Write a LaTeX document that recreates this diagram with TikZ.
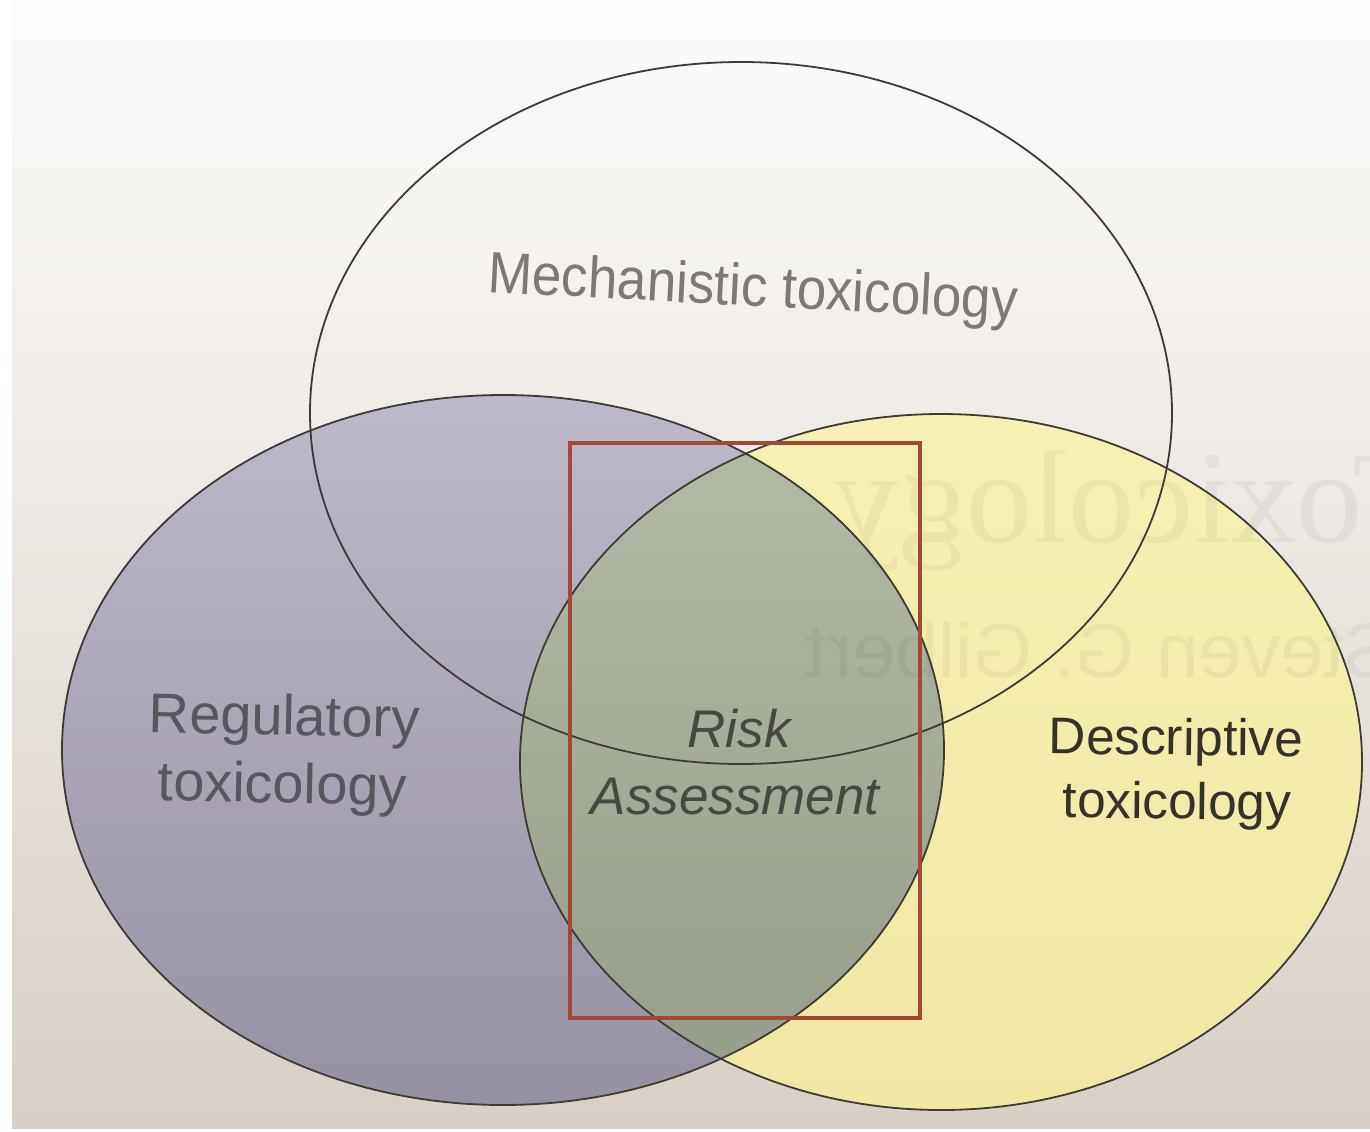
\documentclass[tikz,border=0pt]{standalone}
\usepackage{fontspec}
\setmainfont{Liberation Sans}
\newfontfamily\bgserif{Liberation Serif}
\usepackage{graphicx}
\definecolor{pagetop}{RGB}{253,252,251}
\definecolor{pagemid}{RGB}{246,242,238}
\definecolor{pagebot}{RGB}{216,208,198}
\definecolor{purpletop}{RGB}{190,185,202}
\definecolor{purplebot}{RGB}{150,144,163}
\definecolor{yellowtop}{RGB}{246,241,178}
\definecolor{yellowbot}{RGB}{240,231,163}
\definecolor{lenstop}{RGB}{180,188,166}
\definecolor{lensbot}{RGB}{148,156,138}
\definecolor{outline}{RGB}{62,58,54}
\definecolor{redbox}{RGB}{164,72,54}
\definecolor{mechtext}{RGB}{126,120,118}
\definecolor{regtext}{RGB}{90,86,94}
\definecolor{risktext}{RGB}{70,72,68}
\definecolor{desctext}{RGB}{52,50,42}
\begin{document}
\begin{tikzpicture}[x=0.5pt,y=-0.5pt,
  setline/.style={draw=outline,line width=0.9pt},
  label/.style={inner sep=0pt,anchor=base},
  ghost/.style={inner sep=0pt,anchor=base west,text=black,text opacity=0.045}]
\useasboundingbox (0,0) rectangle (1370,1131);
% photo background
\fill[white] (0,0) rectangle (1370,1131);
\shade[top color=pagetop,middle color=pagemid,bottom color=pagebot] (12,0) rectangle (1370,1128);
% fills
\shade[top color=purpletop,bottom color=purplebot] (503,750) ellipse [x radius=220.5pt,y radius=177.5pt];
\shade[top color=yellowtop,bottom color=yellowbot] (941,762) ellipse [x radius=210.5pt,y radius=174pt];
\begin{scope}
  \clip (503,750) ellipse [x radius=220.5pt,y radius=177.5pt];
  \shade[top color=lenstop,bottom color=lensbot] (941,762) ellipse [x radius=210.5pt,y radius=174pt];
\end{scope}
% faint show-through from the reverse page
\begin{scope}
  \clip (12,0) rectangle (1370,1128);
  \node[ghost,font=\bgserif\fontsize{66}{66}\selectfont] (ghosttitle) at (834,542) {\scalebox{-1}[1]{Toxicology}};
  \node[ghost,font=\fontsize{38.5}{38.5}\selectfont] (ghostauthor) at (805,677) {\scalebox{-1}[1]{Steven G. Gilbert}};
\end{scope}
% outlines
\draw[setline] (503,750) ellipse [x radius=220.5pt,y radius=177.5pt];
\draw[setline] (941,762) ellipse [x radius=210.5pt,y radius=174pt];
\draw[setline] (741,413) ellipse [x radius=215.5pt,y radius=175.5pt];
% labels
\node[label,text=mechtext,rotate=-3,yscale=1.1,font=\fontsize{26.5}{26.5}\selectfont] (mech) at (752,306) {Mechanistic toxicology};
\node[label,text=regtext,rotate=-1.2,font=\fontsize{28}{28}\selectfont] (reg1) at (284,735) {Regulatory};
\node[label,text=regtext,rotate=-1.2,font=\fontsize{28}{28}\selectfont] (reg2) at (282,803) {toxicology};
\node[label,text=risktext,font=\itshape\fontsize{26.5}{26.5}\selectfont] (risk1) at (739,747) {Risk};
\node[label,text=risktext,font=\itshape\fontsize{26.5}{26.5}\selectfont] (risk2) at (735,814) {Assessment};
\node[label,text=desctext,rotate=-0.6,font=\fontsize{25.7}{25.7}\selectfont] (desc1) at (1176,755) {Descriptive};
\node[label,text=desctext,rotate=-0.6,font=\fontsize{25.7}{25.7}\selectfont] (desc2) at (1177,819) {toxicology};
% highlight box
\draw[draw=redbox,line width=2pt] (570,443) rectangle (920,1018);
\end{tikzpicture}
\end{document}
